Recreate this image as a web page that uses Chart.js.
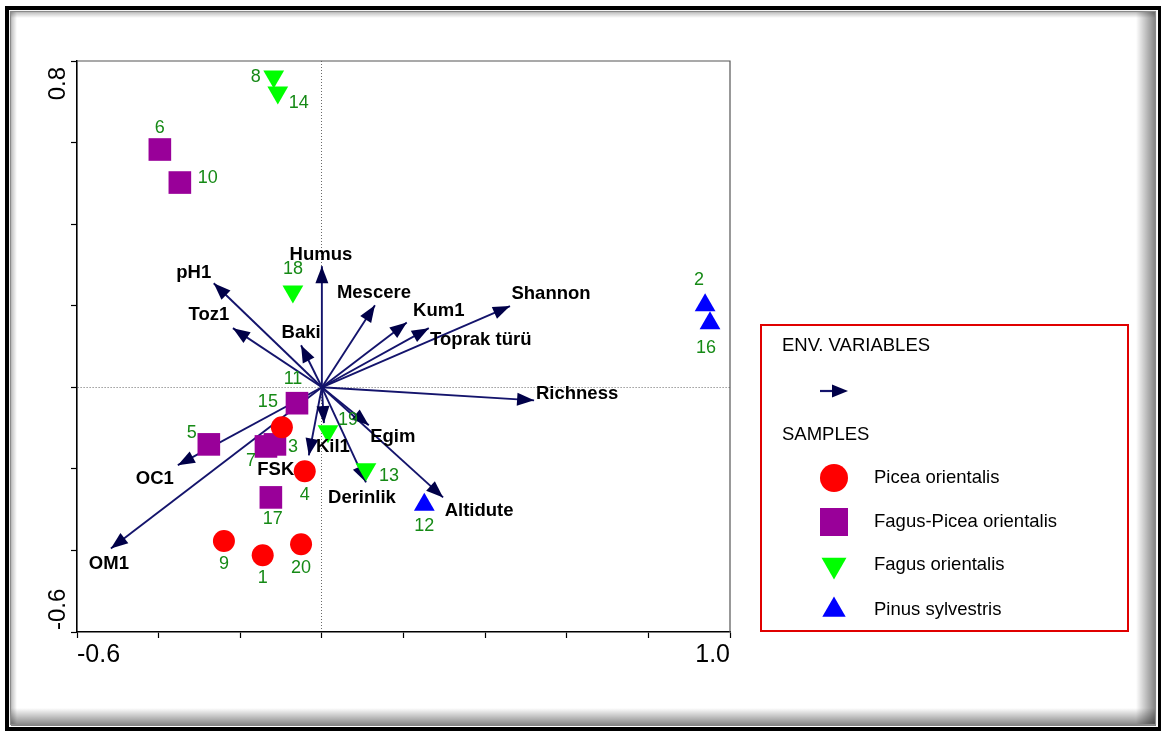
<!DOCTYPE html>
<html>
<head>
<meta charset="utf-8">
<script src="https://cdn.jsdelivr.net/npm/chart.js"></script>
<style>
  html, body { margin: 0; padding: 0; background: #fff; }
  canvas { display: block; }
</style>
</head>
<body>
<canvas id="ordination" width="1161" height="731"></canvas>
<script>
const FONT = "Arial, 'Liberation Sans', sans-serif";

// environmental variables (arrow tips)
const envNames = ["pH1", "Toz1", "Baki", "Humus", "Mescere", "Kum1", "Toprak türü", "Shannon",
                  "Richness", "Egim", "Kil1", "FSK", "Derinlik", "Altidute", "OC1", "OM1"];
const envX = [-0.265, -0.218, -0.051, 0.000, 0.130, 0.208, 0.262, 0.461,
              0.520, 0.115, 0.005, -0.032, 0.108, 0.297, -0.353, -0.517];
const envY = [0.255, 0.145, 0.103, 0.297, 0.201, 0.159, 0.145, 0.199,
              -0.032, -0.093, -0.088, -0.167, -0.233, -0.270, -0.191, -0.395];

// samples, per group
const groupNames = ["Picea orientalis", "Fagus-Picea orientalis", "Fagus orientalis", "Pinus sylvestris"];

const piceaIds = ["1", "4", "9", "15", "20"];
const piceaX = [-0.145, -0.042, -0.240, -0.098, -0.051];
const piceaY = [-0.412, -0.206, -0.377, -0.098, -0.385];

const fagusPiceaIds = ["3", "5", "6", "7", "10", "11", "17"];
const fagusPiceaX = [-0.115, -0.277, -0.397, -0.137, -0.348, -0.061, -0.125];
const fagusPiceaY = [-0.140, -0.140, 0.583, -0.145, 0.502, -0.039, -0.270];

const fagusIds = ["8", "13", "14", "18", "19"];
const fagusX = [-0.118, 0.108, -0.108, -0.071, 0.015];
const fagusY = [0.762, -0.201, 0.723, 0.235, -0.108];

const pinusIds = ["2", "12", "16"];
const pinusX = [0.939, 0.251, 0.951];
const pinusY = [0.201, -0.288, 0.157];

// axes
const xMin = -0.6, xMax = 1.0, yMin = -0.6, yMax = 0.8, step = 0.2;
const xTickLabels = ["-0.6", "1.0"];
const yTickLabels = ["0.8", "-0.6"];


// ---- styles / label placement (pixels) ----
const groupStyle = [
  { pointStyle: "circle",   radius: 11, rotation: 0,   color: "#ff0000", legendRadius: 14 },
  { pointStyle: "rect",     radius: 16, rotation: 0,   color: "#990099", legendRadius: 19.8 },
  { pointStyle: "triangle", radius: 12, rotation: 180, color: "#00ff00", legendRadius: 14.4 },
  { pointStyle: "triangle", radius: 12, rotation: 0,   color: "#0000ff", legendRadius: 13.5 }
];

const sampleLabelOffset = {
  "1": [0, 23], "4": [0, 24], "9": [0, 23], "15": [-14, -25], "20": [0, 24],
  "3": [18, 3], "5": [-17, -11], "6": [0, -21], "7": [-15, 15], "10": [28, -5],
  "11": [-4, -24], "17": [2, 22],
  "8": [-18, 1], "13": [23, 7], "14": [21, 11], "18": [0, -22], "19": [20, -11],
  "2": [-6, -25], "12": [0, 21], "16": [-4, 25]
};

const envLabelOffset = {
  "pH1": [-20, -10], "Toz1": [-24, -13], "Baki": [0, -12], "Humus": [-1, -11],
  "Mescere": [-1, -12], "Kum1": [32, -12], "Toprak türü": [52, 12], "Shannon": [41, -12],
  "Richness": [43, -6], "Egim": [24, 12], "Kil1": [9, 24], "FSK": [-33, 15],
  "Derinlik": [-4, 16], "Altidute": [36, 13], "OC1": [-23, 14], "OM1": [-2, 16]
};

const ARROW_LINE = "#14146c";
const ARROW_HEAD = "#000048";
const LABEL_GREEN = "#168a16";


function drawArrowHead(ctx, x0, y0, x1, y1, len, half) {
  const a = Math.atan2(y1 - y0, x1 - x0);
  const bx = x1 - Math.cos(a) * len, by = y1 - Math.sin(a) * len;
  ctx.beginPath();
  ctx.moveTo(x1, y1);
  ctx.lineTo(bx + Math.sin(a) * half, by - Math.cos(a) * half);
  ctx.lineTo(bx - Math.sin(a) * half, by + Math.cos(a) * half);
  ctx.closePath();
  ctx.fill();
}


const arrowSets = envNames.map((name, i) => ({
  type: "line",
  label: name,
  isArrow: true,
  data: [{ x: 0, y: 0 }, { x: envX[i], y: envY[i] }],
  borderColor: ARROW_LINE,
  borderWidth: 1.9,
  pointRadius: 0,
  fill: false,
  order: 5
}));

function sampleSet(g, ids, xs, ys) {
  const s = groupStyle[g];
  return {
    type: "scatter",
    label: groupNames[g],
    ids: ids,
    data: xs.map((x, i) => ({ x: x, y: ys[i] })),
    pointStyle: s.pointStyle,
    pointRadius: s.radius,
    pointRotation: s.rotation,
    backgroundColor: s.color,
    borderColor: s.color,
    borderWidth: 0,
    order: g + 1
  };
}

const sampleSets = [
  sampleSet(0, piceaIds, piceaX, piceaY),
  sampleSet(1, fagusPiceaIds, fagusPiceaX, fagusPiceaY),
  sampleSet(2, fagusIds, fagusX, fagusY),
  sampleSet(3, pinusIds, pinusX, pinusY)
];


// outer picture frame
const framePlugin = {
  id: "frame",
  beforeDraw(chart) {
    const { ctx, width, height } = chart;
    ctx.save();
    ctx.fillStyle = "#fff";
    ctx.fillRect(0, 0, width, height);

    let g = ctx.createLinearGradient(1136, 0, 1156, 0);
    g.addColorStop(0, "rgba(0,0,0,0)");
    g.addColorStop(1, "rgba(0,0,0,0.5)");
    ctx.fillStyle = g;
    ctx.fillRect(1136, 11, 20, 714);

    g = ctx.createLinearGradient(0, 708, 0, 726);
    g.addColorStop(0, "rgba(0,0,0,0)");
    g.addColorStop(1, "rgba(0,0,0,0.5)");
    ctx.fillStyle = g;
    ctx.fillRect(11, 708, 1145, 18);

    g = ctx.createLinearGradient(10, 0, 17, 0);
    g.addColorStop(0, "rgba(0,0,0,0.3)");
    g.addColorStop(1, "rgba(0,0,0,0)");
    ctx.fillStyle = g;
    ctx.fillRect(10, 11, 7, 714);

    g = ctx.createLinearGradient(0, 11, 0, 18);
    g.addColorStop(0, "rgba(0,0,0,0.3)");
    g.addColorStop(1, "rgba(0,0,0,0)");
    ctx.fillStyle = g;
    ctx.fillRect(10, 11, 1146, 7);

    ctx.strokeStyle = "#000";
    ctx.lineWidth = 4;
    ctx.strokeRect(7, 8, 1153, 721);
    ctx.strokeStyle = "#8a8a8a";
    ctx.lineWidth = 1.2;
    ctx.strokeRect(10.5, 11.5, 1145, 713);
    ctx.restore();
  }
};

// arrow heads, drawn right after each arrow line
const arrowHeadPlugin = {
  id: "arrowHeads",
  afterDatasetDraw(chart, args) {
    const ds = chart.data.datasets[args.index];
    if (!ds.isArrow) return;
    const pts = args.meta.data;
    const ctx = chart.ctx;
    ctx.save();
    ctx.fillStyle = ARROW_HEAD;
    drawArrowHead(ctx, pts[0].x, pts[0].y, pts[1].x, pts[1].y, 17, 6.5);
    ctx.restore();
  }
};

// labels, chart box, y tick labels, legend
const annotatePlugin = {
  id: "annotate",
  afterDatasetsDraw(chart) {
    const ctx = chart.ctx;
    const area = chart.chartArea;
    const yScale = chart.scales.y;
    ctx.save();

    // top + right box lines
    ctx.strokeStyle = "#555";
    ctx.lineWidth = 1.2;
    ctx.beginPath();
    ctx.moveTo(area.left, area.top);
    ctx.lineTo(area.right, area.top);
    ctx.lineTo(area.right, area.bottom);
    ctx.stroke();

    // environmental variable names
    ctx.fillStyle = "#000";
    ctx.font = "bold 18.5px " + FONT;
    ctx.textAlign = "center";
    ctx.textBaseline = "middle";
    chart.data.datasets.forEach((ds, i) => {
      if (!ds.isArrow) return;
      const tip = chart.getDatasetMeta(i).data[1];
      const off = envLabelOffset[ds.label] || [0, -12];
      ctx.fillText(ds.label, tip.x + off[0], tip.y + off[1]);
    });

    // sample numbers
    ctx.fillStyle = LABEL_GREEN;
    ctx.font = "18px " + FONT;
    chart.data.datasets.forEach((ds, i) => {
      if (!ds.ids) return;
      chart.getDatasetMeta(i).data.forEach((pt, j) => {
        const id = ds.ids[j];
        const off = sampleLabelOffset[id] || [0, -20];
        ctx.fillText(id, pt.x + off[0], pt.y + off[1]);
      });
    });

    // rotated y tick labels, inner aligned
    ctx.fillStyle = "#000";
    ctx.font = "24px " + FONT;
    ctx.textBaseline = "alphabetic";
    yTickLabels.forEach(t => {
      const v = parseFloat(t);
      const py = yScale.getPixelForValue(v);
      ctx.save();
      ctx.translate(65, v === yMax ? py + 6 : py - 2);
      ctx.rotate(-Math.PI / 2);
      ctx.textAlign = v === yMax ? "right" : "left";
      ctx.fillText(t, 0, 0);
      ctx.restore();
    });

    // legend
    ctx.strokeStyle = "#e00000";
    ctx.lineWidth = 2;
    ctx.strokeRect(761, 325, 367, 306);
    ctx.fillStyle = "#000";
    ctx.font = "18.5px " + FONT;
    ctx.textAlign = "left";
    ctx.textBaseline = "middle";
    ctx.fillText("ENV. VARIABLES", 782, 346);
    ctx.strokeStyle = ARROW_LINE;
    ctx.lineWidth = 2.2;
    ctx.beginPath();
    ctx.moveTo(820, 391);
    ctx.lineTo(838, 391);
    ctx.stroke();
    ctx.fillStyle = ARROW_HEAD;
    drawArrowHead(ctx, 820, 391, 848, 391, 16, 6.5);
    ctx.fillStyle = "#000";
    ctx.fillText("SAMPLES", 782, 435);

    const rowY = [478, 522, 565, 610];
    sampleSets.forEach((ds, g) => {
      const s = groupStyle[g];
      ctx.fillStyle = s.color;
      Chart.helpers.drawPoint(ctx, {
        pointStyle: s.pointStyle, radius: s.legendRadius, rotation: s.rotation, borderWidth: 0
      }, 834, rowY[g]);
      ctx.fillStyle = "#000";
      ctx.fillText(ds.label, 874, rowY[g]);
    });

    ctx.restore();
  }
};


const isZero = v => Math.abs(v) < 1e-9;

new Chart(document.getElementById("ordination"), {
  data: { datasets: [...sampleSets, ...arrowSets] },
  options: {
    responsive: false,
    animation: false,
    devicePixelRatio: 1,
    layout: { padding: { left: 0, top: 61, right: 431, bottom: 59 } },
    plugins: { legend: { display: false }, tooltip: { enabled: false } },
    scales: {
      x: {
        type: "linear",
        min: xMin,
        max: xMax,
        ticks: {
          stepSize: step,
          autoSkip: false,
          maxRotation: 0,
          align: "inner",
          padding: 2,
          color: "#000",
          font: { family: FONT, size: 25 },
          callback: v => xTickLabels.find(t => Math.abs(parseFloat(t) - v) < 1e-9) || ""
        },
        grid: {
          color: c => (c.tick && isZero(c.tick.value)) ? "#6a6a6a" : "rgba(0,0,0,0)",
          lineWidth: 1,
          tickColor: "#000",
          tickLength: 6,
          tickWidth: 1.2
        },
        border: { color: "#000", width: 1.6, dash: [1, 2] },
        afterFit: s => { s.height = 40; }
      },
      y: {
        type: "linear",
        min: yMin,
        max: yMax,
        ticks: {
          stepSize: step,
          autoSkip: false,
          callback: () => ""
        },
        grid: {
          color: c => (c.tick && isZero(c.tick.value)) ? "#6a6a6a" : "rgba(0,0,0,0)",
          lineWidth: 1,
          tickColor: "#000",
          tickLength: 6,
          tickWidth: 1.2
        },
        border: { color: "#000", width: 1.6, dash: [1, 2] },
        afterFit: s => { s.width = 77; }
      }
    }
  },
  plugins: [framePlugin, arrowHeadPlugin, annotatePlugin]
});
</script>
</body>
</html>
